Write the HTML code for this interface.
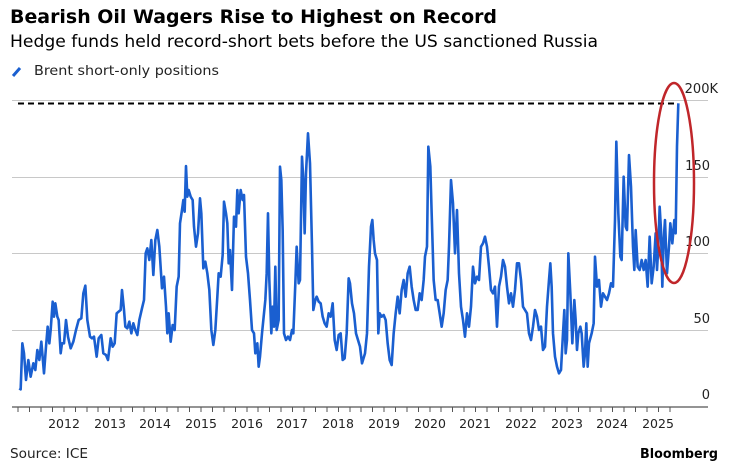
<!DOCTYPE html>
<html><head><meta charset="utf-8"><style>
html,body{margin:0;padding:0;background:#fff;}
svg{display:block;}
text{font-family:"DejaVu Sans","Liberation Sans",sans-serif;}
</style></head><body>
<svg width="730" height="472" viewBox="0 0 730 472" xmlns="http://www.w3.org/2000/svg">
<text x="10" y="23" font-size="19" font-weight="bold" fill="#000" textLength="487" lengthAdjust="spacingAndGlyphs">Bearish Oil Wagers Rise to Highest on Record</text>
<text x="10" y="47" font-size="17" fill="#000" textLength="588" lengthAdjust="spacingAndGlyphs">Hedge funds held record-short bets before the US sanctioned Russia</text>
<line x1="13" y1="76" x2="20" y2="68" stroke="#1a5fd0" stroke-width="3"/>
<text x="34" y="75" font-size="13.5" fill="#222" textLength="185" lengthAdjust="spacingAndGlyphs">Brent short-only positions</text>
<g stroke="#c8c8c8" stroke-width="1">
<line x1="12" y1="100.5" x2="708" y2="100.5"/>
<line x1="12" y1="177.5" x2="708" y2="177.5"/>
<line x1="12" y1="253.5" x2="708" y2="253.5"/>
<line x1="12" y1="330.5" x2="708" y2="330.5"/>
</g>
<line x1="12" y1="407" x2="708" y2="407" stroke="#555" stroke-width="1.2"/>
<g stroke="#555" stroke-width="1" id="ticks"></g>
<g font-size="13" fill="#222" text-anchor="end">
<text x="718" y="93">200K</text>
<text x="710" y="170">150</text>
<text x="710" y="246">100</text>
<text x="710" y="323">50</text>
<text x="710" y="399">0</text>
</g>
<g font-size="12.5" fill="#222" text-anchor="middle" id="years"></g>
<line x1="18" y1="103.5" x2="677" y2="103.5" stroke="#000" stroke-width="2" stroke-dasharray="6,4"/>
<g transform="translate(0,80) scale(0.33333)">
<polyline fill="none" stroke="#1a5fd0" stroke-width="2.6" vector-effect="non-scaling-stroke" stroke-linejoin="round" points="58,925 62,928 67,790 72,820 78,900 85,840 92,890 100,850 106,870 112,810 118,840 124,785 132,880 138,800 143,740 148,790 152,750 158,665 162,710 166,670 172,710 176,720 182,820 186,790 192,790 198,720 204,770 212,805 220,785 228,750 236,720 244,715 250,640 256,617 262,720 270,770 276,775 282,770 290,830 296,775 304,765 310,820 318,825 324,840 332,775 338,800 344,790 350,700 356,695 362,690 366,630 372,690 376,740 382,745 388,725 394,760 400,730 406,750 412,765 418,720 426,685 432,660 437,520 442,505 448,540 454,480 460,585 466,480 472,450 478,500 486,625 492,590 498,680 502,760 506,700 512,785 518,735 524,750 530,620 536,590 540,430 546,390 550,360 554,395 558,258 562,350 566,330 572,350 578,360 582,440 588,500 594,460 600,355 604,400 610,565 616,545 622,580 628,630 634,750 640,795 646,750 652,650 656,580 662,590 668,525 672,365 678,400 682,430 686,550 690,510 696,630 702,410 708,440 712,330 716,400 722,330 728,360 732,345 738,530 744,580 750,660 756,750 762,760 766,820 772,790 776,860 780,830 786,760 790,720 796,660 800,580 804,400 808,600 814,760 818,680 822,740 826,560 830,750 836,720 840,260 844,300 848,450 852,760 858,780 864,770 870,780 876,750 880,760 886,610 890,500 896,610 900,600 906,230 910,300 914,460 918,280 924,160 930,250 936,500 940,690 946,660 950,650 956,665 962,670 968,710 974,730 980,740 986,700 992,710 998,670 1004,780 1010,810 1016,765 1022,760 1028,840 1034,835 1040,760 1046,595 1050,610 1056,670 1062,700 1068,760 1074,780 1080,800 1086,850 1095,820 1101,760 1107,560 1113,440 1117,420 1121,480 1125,520 1131,540 1135,760 1139,700 1145,710 1151,705 1157,720 1163,790 1169,840 1175,855 1181,760 1187,700 1193,650 1199,700 1205,630 1211,600 1217,650 1223,580 1229,560 1235,620 1241,660 1247,690 1253,690 1259,640 1265,660 1271,600 1275,530 1281,500 1285,200 1291,260 1295,400 1301,600 1307,660 1313,660 1319,700 1325,740 1331,700 1337,630 1343,600 1347,500 1353,300 1359,370 1365,520 1371,390 1377,580 1383,680 1389,720 1395,770 1401,700 1407,740 1413,680 1419,560 1425,610 1431,590 1437,600 1443,500 1449,490 1455,470 1461,500 1467,560 1473,630 1479,640 1485,620 1491,740 1497,620 1503,590 1509,540 1515,560 1521,620 1527,670 1533,640 1539,680 1545,630 1551,550 1557,550 1563,600 1569,680 1575,690 1581,700 1587,760 1593,780 1599,740 1605,690 1611,710 1617,750 1623,740 1629,810 1635,800 1641,680 1647,600 1651,550 1655,620 1659,760 1665,830 1671,860 1677,880 1683,870 1689,760 1693,690 1697,820 1701,780 1705,520 1711,640 1717,790 1723,660 1727,720 1731,810 1735,760 1741,740 1745,760 1751,860 1755,820 1759,730 1763,860 1767,790 1775,760 1781,730 1785,530 1791,620 1797,600 1803,680 1809,640 1815,650 1821,660 1827,640 1833,610 1839,620 1845,420 1849,185 1855,400 1861,530 1865,540 1871,290 1877,440 1881,450 1887,225 1893,320 1899,500 1903,570 1907,450 1913,560 1919,570 1925,540 1931,570 1937,540 1943,620 1949,470 1955,610 1961,560 1967,460 1971,570 1975,500 1979,380 1983,450 1987,620 1991,480 1995,420 2001,580 2007,500 2011,430 2017,490 2023,420 2027,460 2031,200 2035,70"/>
</g>
<ellipse cx="674" cy="183" rx="20" ry="100" fill="none" stroke="#c0262a" stroke-width="2.5"/>
<text x="10" y="458" font-size="13" fill="#222" textLength="78" lengthAdjust="spacingAndGlyphs">Source: ICE</text>
<text x="718" y="458" font-size="13.5" font-weight="bold" fill="#000" text-anchor="end" textLength="78" lengthAdjust="spacingAndGlyphs">Bloomberg</text>
<g stroke="#555" stroke-width="1">
<line x1="18" y1="407" x2="18" y2="412"/><line x1="29.5" y1="407" x2="29.5" y2="412"/><line x1="41" y1="407" x2="41" y2="412"/><line x1="52.5" y1="407" x2="52.5" y2="412"/><line x1="64" y1="407" x2="64" y2="412"/><line x1="75.5" y1="407" x2="75.5" y2="412"/><line x1="87" y1="407" x2="87" y2="412"/><line x1="98" y1="407" x2="98" y2="412"/><line x1="109.5" y1="407" x2="109.5" y2="412"/><line x1="121" y1="407" x2="121" y2="412"/><line x1="132.5" y1="407" x2="132.5" y2="412"/><line x1="144" y1="407" x2="144" y2="412"/><line x1="155.5" y1="407" x2="155.5" y2="412"/><line x1="167" y1="407" x2="167" y2="412"/><line x1="178" y1="407" x2="178" y2="412"/><line x1="189.5" y1="407" x2="189.5" y2="412"/><line x1="201" y1="407" x2="201" y2="412"/><line x1="212.5" y1="407" x2="212.5" y2="412"/><line x1="224" y1="407" x2="224" y2="412"/><line x1="235.5" y1="407" x2="235.5" y2="412"/><line x1="247" y1="407" x2="247" y2="412"/><line x1="258" y1="407" x2="258" y2="412"/><line x1="269.5" y1="407" x2="269.5" y2="412"/><line x1="281" y1="407" x2="281" y2="412"/><line x1="292.5" y1="407" x2="292.5" y2="412"/><line x1="304" y1="407" x2="304" y2="412"/><line x1="315.5" y1="407" x2="315.5" y2="412"/><line x1="327" y1="407" x2="327" y2="412"/><line x1="338.5" y1="407" x2="338.5" y2="412"/><line x1="350" y1="407" x2="350" y2="412"/><line x1="361" y1="407" x2="361" y2="412"/><line x1="372.5" y1="407" x2="372.5" y2="412"/><line x1="384" y1="407" x2="384" y2="412"/><line x1="395.5" y1="407" x2="395.5" y2="412"/><line x1="407" y1="407" x2="407" y2="412"/><line x1="418.5" y1="407" x2="418.5" y2="412"/><line x1="430" y1="407" x2="430" y2="412"/><line x1="441" y1="407" x2="441" y2="412"/><line x1="452.5" y1="407" x2="452.5" y2="412"/><line x1="464" y1="407" x2="464" y2="412"/><line x1="475.5" y1="407" x2="475.5" y2="412"/><line x1="487" y1="407" x2="487" y2="412"/><line x1="498.5" y1="407" x2="498.5" y2="412"/><line x1="510" y1="407" x2="510" y2="412"/><line x1="521" y1="407" x2="521" y2="412"/><line x1="532.5" y1="407" x2="532.5" y2="412"/><line x1="544" y1="407" x2="544" y2="412"/><line x1="555.5" y1="407" x2="555.5" y2="412"/><line x1="567" y1="407" x2="567" y2="412"/><line x1="578.5" y1="407" x2="578.5" y2="412"/><line x1="590" y1="407" x2="590" y2="412"/><line x1="601" y1="407" x2="601" y2="412"/><line x1="612.5" y1="407" x2="612.5" y2="412"/><line x1="624" y1="407" x2="624" y2="412"/><line x1="635.5" y1="407" x2="635.5" y2="412"/><line x1="647" y1="407" x2="647" y2="412"/><line x1="658.5" y1="407" x2="658.5" y2="412"/><line x1="670" y1="407" x2="670" y2="412"/>
</g>
<g font-size="12.5" fill="#222" text-anchor="middle">
<text x="64" y="428">2012</text><text x="110" y="428">2013</text><text x="155" y="428">2014</text><text x="201" y="428">2015</text><text x="247" y="428">2016</text><text x="292" y="428">2017</text><text x="338" y="428">2018</text><text x="384" y="428">2019</text><text x="430" y="428">2020</text><text x="475" y="428">2021</text><text x="521" y="428">2022</text><text x="567" y="428">2023</text><text x="612" y="428">2024</text><text x="658" y="428">2025</text>
</g>
</svg>
</body></html>
